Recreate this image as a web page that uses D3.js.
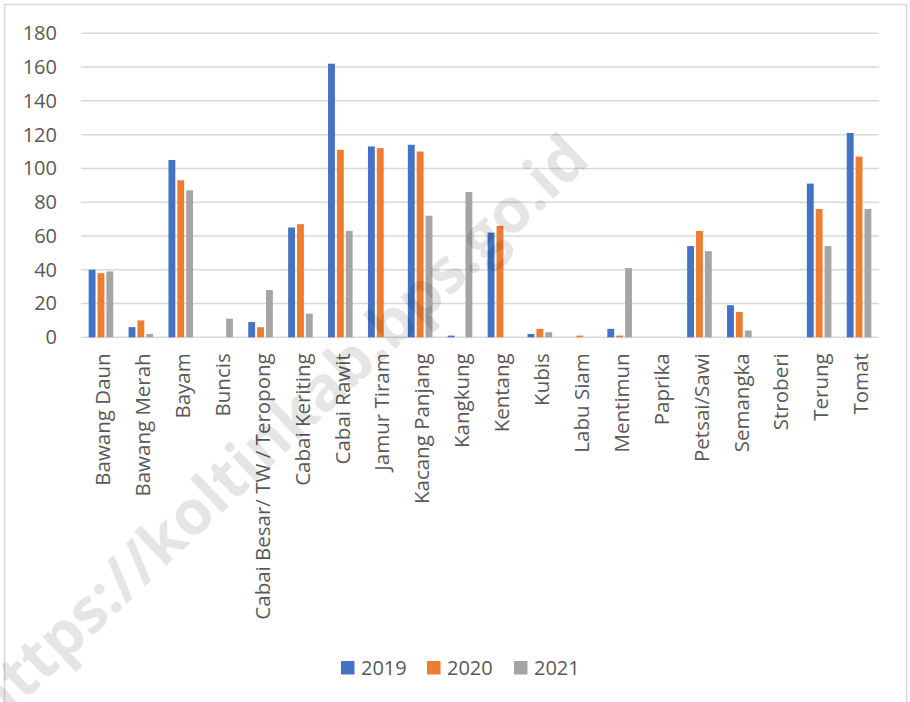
<!DOCTYPE html>
<html>
<head>
<meta charset="utf-8">
<script src="https://cdn.jsdelivr.net/npm/d3@7"></script>
<style>
  body { margin: 0; background: #fff; }
  svg { display: block; }
</style>
</head>
<body>
<svg id="chart" width="910" height="702"></svg>
<script>
// data
var categories = ['Bawang Daun','Bawang Merah','Bayam','Buncis','Cabai Besar/ TW / Teropong',
	'Cabai Keriting','Cabai Rawit','Jamur Tiram','Kacang Panjang','Kangkung','Kentang','Kubis',
	'Labu Siam','Mentimun','Paprika','Petsai/Sawi','Semangka','Stroberi','Terung','Tomat'];
var series = ['2019','2020','2021'];
var v2019 = [40, 6, 105, 0, 9, 65, 162, 113, 114, 1, 62, 2, 0, 5, 0, 54, 19, 0, 91, 121];
var v2020 = [38, 10, 93, 0, 6, 67, 111, 112, 110, 0, 66, 5, 1, 1, 0, 63, 15, 0, 76, 107];
var v2021 = [39, 2, 87, 11, 28, 14, 63, 0, 72, 86, 0, 3, 0, 41, 0, 51, 4, 0, 54, 76];
var yTicks = [0, 20, 40, 60, 80, 100, 120, 140, 160, 180];
var colors = ['#4472C4', '#ED7D31', '#A5A5A5'];

var values = [v2019, v2020, v2021];
var svg = d3.select('#chart');
var font = '"Open Sans", "DejaVu Sans", sans-serif';

// outer frame
svg.append('rect')
	.attr('x', 4.5).attr('y', 4.5)
	.attr('width', 902).attr('height', 720)
	.attr('fill', 'none')
	.attr('stroke', '#D9D9D9')
	.attr('stroke-width', 1.5);

var x = d3.scaleBand().domain(categories).range([81, 879]);
var x1 = d3.scaleBand().domain(series).range([0, x.bandwidth()]).paddingInner(0).paddingOuter(0.75);
var y = d3.scaleLinear().domain([0, 180]).range([337.3, 33.3]);

// gridlines
svg.selectAll('.grid').data(yTicks).enter()
	.append('line')
	.attr('class', 'grid')
	.attr('x1', 81).attr('x2', 879)
	.attr('y1', function (d) { return y(d); })
	.attr('y2', function (d) { return y(d); })
	.attr('stroke', '#D9D9D9')
	.attr('stroke-width', 1.5);

// y axis labels
var yAxis = d3.axisLeft(y).tickValues(yTicks).tickSize(0).tickPadding(24);
var gy = svg.append('g').attr('transform', 'translate(81,0)').call(yAxis);
gy.select('.domain').remove();
gy.selectAll('text')
	.attr('font-family', font)
	.attr('font-size', '20px')
	.attr('fill', '#595959');

// bars
series.forEach(function (s, si) {
	svg.selectAll('.bar' + s).data(values[si]).enter()
		.append('rect')
		.attr('class', 'bar' + s)
		.attr('x', function (d, i) { return x(categories[i]) + x1(s) + 1; })
		.attr('y', function (d) { return y(d); })
		.attr('width', x1.bandwidth() - 2)
		.attr('height', function (d) { return y(0) - y(d); })
		.attr('fill', colors[si]);
});

// x axis labels
var xAxis = d3.axisBottom(x).tickSize(0).tickPadding(0);
var gx = svg.append('g').attr('transform', 'translate(0,' + y(0) + ')').call(xAxis);
gx.select('.domain').remove();
gx.selectAll('text')
	.attr('font-family', font)
	.attr('font-size', '20.5px')
	.attr('fill', '#595959')
	.attr('transform', 'rotate(-90)')
	.attr('x', -16)
	.attr('y', 2)
	.attr('dy', '0.35em')
	.style('text-anchor', 'end');

// legend
var legendX = [341, 427, 514];
var lg = svg.selectAll('.legend').data(series).enter()
	.append('g')
	.attr('class', 'legend')
	.attr('transform', function (d, i) { return 'translate(' + legendX[i] + ',661)'; });
lg.append('rect')
	.attr('width', 13.5).attr('height', 13.5)
	.attr('fill', function (d, i) { return colors[i]; });
lg.append('text')
	.attr('x', 20).attr('y', 7)
	.attr('dy', '0.35em')
	.text(function (d) { return d; })
	.attr('font-family', font)
	.attr('font-size', '20px')
	.attr('fill', '#595959');

// watermark
svg.append('text')
	.attr('transform', 'translate(592,162) rotate(-43.5)')
	.attr('text-anchor', 'end')
	.text('https://koltinkab.bps.go.id')
	.attr('font-family', font)
	.attr('font-weight', 'bold')
	.attr('font-size', '62px')
	.attr('fill', '#000')
	.attr('fill-opacity', 0.1);
</script>
</body>
</html>
